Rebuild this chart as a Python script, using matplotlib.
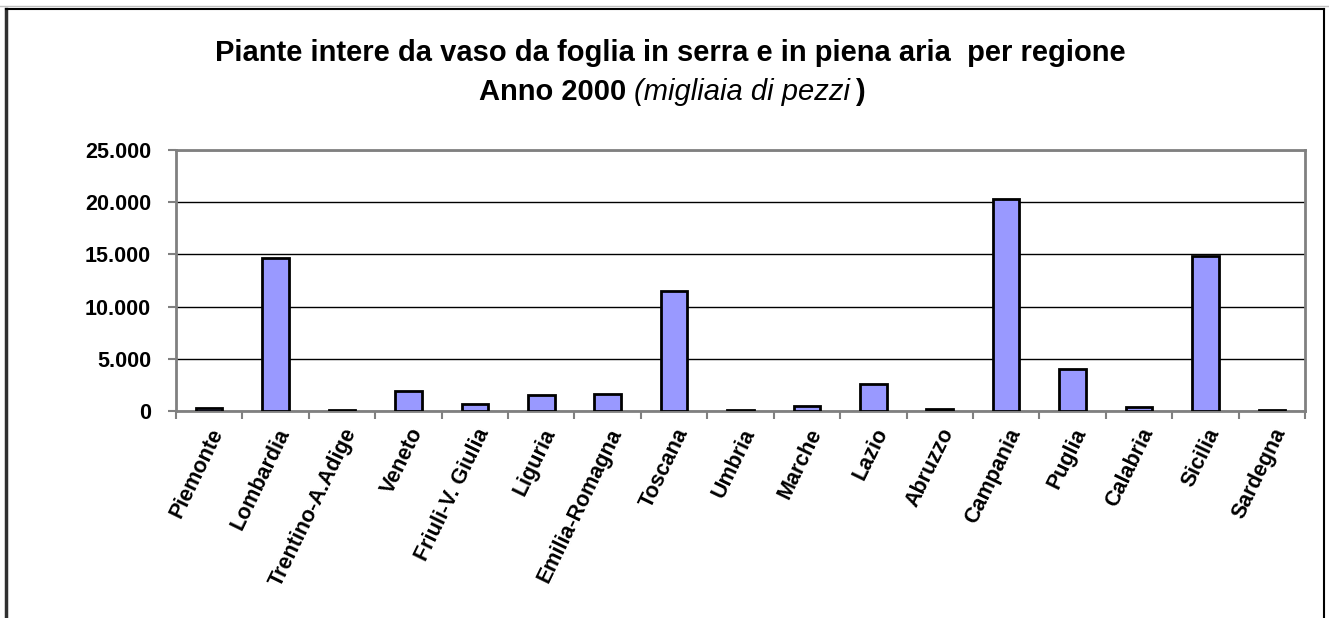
import matplotlib
matplotlib.use("Agg")
import matplotlib.pyplot as plt
from matplotlib.lines import Line2D
from matplotlib.ticker import FuncFormatter

regioni = ["Piemonte", "Lombardia", "Trentino-A.Adige", "Veneto", "Friuli-V. Giulia",
           "Liguria", "Emilia-Romagna", "Toscana", "Umbria", "Marche", "Lazio",
           "Abruzzo", "Campania", "Puglia", "Calabria", "Sicilia", "Sardegna"]
valori = [250, 14650, 100, 1900, 650, 1500, 1600, 11450, 80, 450, 2550,
          150, 20350, 4000, 350, 14800, 120]

plt.rcParams['font.family'] = ['Liberation Sans', 'DejaVu Sans']

fig = plt.figure(figsize=(13.29, 6.18), dpi=100)
ax = fig.add_axes([176 / 1329, 1 - 411 / 618, (1305 - 176) / 1329, (411 - 150) / 618])

x = list(range(len(regioni)))
ax.bar(x, valori, width=0.4, color="#9999FF", edgecolor="black", linewidth=2, zorder=3)

ax.set_xlim(-0.5, len(regioni) - 0.5)
ax.set_ylim(0, 25000)
ax.set_yticks(range(0, 25001, 5000))
ax.yaxis.set_major_formatter(FuncFormatter(lambda v, p: "{:,.0f}".format(v).replace(",", ".")))
ax.grid(axis="y", color="black", linewidth=1, zorder=0)

# tacche tra le categorie, etichette al centro delle barre
ax.set_xticks([i - 0.5 for i in range(len(regioni) + 1)])
ax.set_xticklabels([])
ax.set_xticks(x, minor=True)
ax.set_xticklabels(regioni, minor=True, rotation=64, ha="right", rotation_mode="anchor",
                   fontsize=15.5, fontweight="bold")
ax.tick_params(axis="x", which="major", length=6, direction="out", color="#808080", width=1.5)
ax.tick_params(axis="x", which="minor", length=0, pad=10)
ax.tick_params(axis="y", length=6, color="#808080", width=1.5, labelsize=15.5, pad=12)
for lab in ax.get_yticklabels():
    lab.set_fontweight("bold")

for s in ax.spines.values():
    s.set_color("#808080")
    s.set_linewidth(2)

# titolo
fig.text(670 / 1329, 1 - 53 / 618, "Piante intere da vaso da foglia in serra e in piena aria  per regione",
         ha="center", va="center", fontsize=21, fontweight="bold")
y2 = 1 - 100 / 618
t1 = fig.text(479 / 1329, y2, "Anno 2000 ", ha="left", va="baseline", fontsize=21, fontweight="bold")
t2 = fig.text(0, y2, "(migliaia di pezzi", fontsize=21, style="italic", va="baseline")
t3 = fig.text(0, y2, ")", fontsize=21, fontweight="bold", va="baseline")

fig.canvas.draw()
r = fig.canvas.get_renderer()
inv = fig.transFigure.inverted()
b1 = t1.get_window_extent(r)
t2.set_x(inv.transform((b1.x1, 0))[0])
b2 = t2.get_window_extent(r)
t3.set_x(inv.transform((b2.x1 + 5, 0))[0])

# cornice esterna
fig.add_artist(Line2D([6 / 1329, 6 / 1329], [0, 1 - 9 / 618], transform=fig.transFigure,
                      color="#303030", linewidth=2.5))
fig.add_artist(Line2D([6 / 1329, 1324 / 1329], [1 - 9 / 618, 1 - 9 / 618], transform=fig.transFigure,
                      color="black", linewidth=1.5))
fig.add_artist(Line2D([1324 / 1329, 1324 / 1329], [0, 1 - 9 / 618], transform=fig.transFigure,
                      color="black", linewidth=1.5))
fig.add_artist(Line2D([0, 1], [1 - 6 / 618, 1 - 6 / 618], transform=fig.transFigure,
                      color="#c0c0c0", linewidth=1))

fig.savefig("out.png", dpi=100)
